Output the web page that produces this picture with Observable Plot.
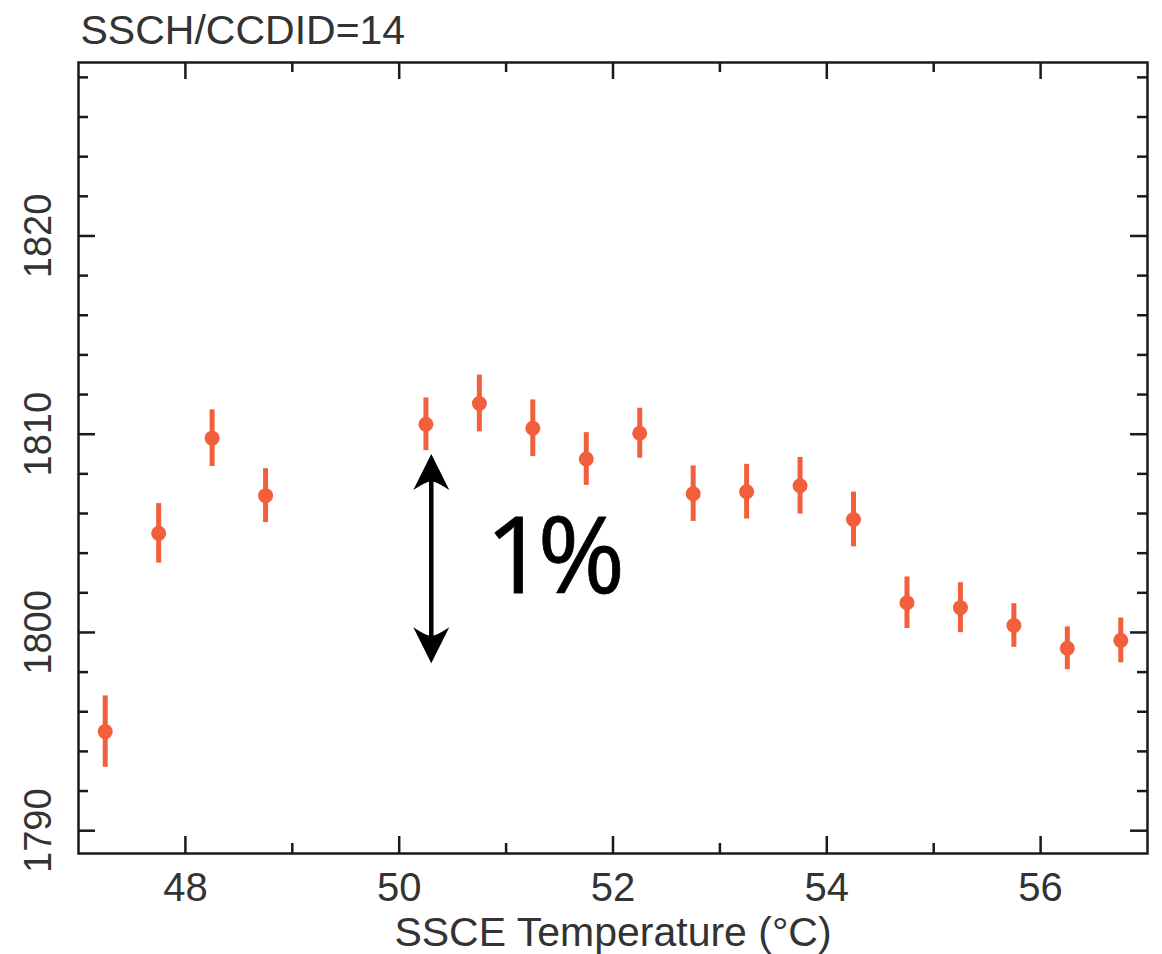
<!DOCTYPE html>
<html>
<head>
<meta charset="utf-8">
<script src="https://cdn.jsdelivr.net/npm/d3@7"></script>
<script src="https://cdn.jsdelivr.net/npm/@observablehq/plot@0.6"></script>
<style>
  html, body { margin: 0; padding: 0; background: #fff; }
  #chart svg { display: block; }
</style>
</head>
<body>
<div id="chart"></div>
<script>
// ---- data ----
const title = "SSCH/CCDID=14";
const xLabel = "SSCE Temperature (°C)";
const temps = [47.25, 47.75, 48.25, 48.75, 50.25, 50.75, 51.25, 51.75, 52.25, 52.75, 53.25, 53.75, 54.25, 54.75, 55.25, 55.75, 56.25, 56.75];
const values = [1795.0, 1805.0, 1809.8, 1806.9, 1810.5, 1811.55, 1810.3, 1808.75, 1810.05, 1807.0, 1807.1, 1807.4, 1805.7, 1801.5, 1801.25, 1800.35, 1799.2, 1799.6];
const errors = [1.8, 1.5, 1.43, 1.36, 1.33, 1.43, 1.43, 1.33, 1.26, 1.4, 1.38, 1.43, 1.38, 1.3, 1.26, 1.1, 1.08, 1.13];
const xMajorTicks = [48, 50, 52, 54, 56];
const xMinorTicks = [49, 51, 53, 55];
const yMajorTicks = [1790, 1800, 1810, 1820];
const yMinorTicks = [1792, 1794, 1796, 1798, 1802, 1804, 1806, 1808, 1812, 1814, 1816, 1818, 1822, 1824, 1826, 1828];
const xDomain = [47, 57];
const yDomain = [1788.85, 1828.75];
// annotation: double arrow and "1%" label
const arrowX = [50.3];
const arrowBottom = [1798.45];
const arrowTop = [1809.0];
const noteText = ["1%"];
const noteX = [51.42];
const noteY = [1803.7];

const data = temps.map((t, i) => ({t, v: values[i], e: errors[i]}));
const arrowData = arrowX.map((x, i) => ({x, top: arrowTop[i], bottom: arrowBottom[i]}));
const headData = arrowData.flatMap(a => [{x: a.x, y: a.top, r: 0}, {x: a.x, y: a.bottom, r: 180}]);
const noteData = noteText.map((s, i) => ({s, x: noteX[i], y: noteY[i]}));

// ---- layout ----
const W = 1162, H = 954;
const mL = 78, mR = 15, mT = 62, mB = 101;
const frameW = W - mL - mR, frameH = H - mT - mB;
const majorLen = 17, minorLen = 10;
const red = "#f25f3c";
const ink = "#1a1a1a";
const textInk = "#333";
const font = "'Liberation Sans', Arial, Helvetica, sans-serif";

const arrowHead = {
  draw(context) {
    context.moveTo(0, 0);
    context.lineTo(18, 36);
    context.quadraticCurveTo(6, 28, 0, 27);
    context.quadraticCurveTo(-6, 28, -18, 36);
    context.closePath();
  }
};

const tickStyle = {stroke: ink, strokeWidth: 2.5};

const chart = Plot.plot({
  width: W,
  height: H,
  marginLeft: mL,
  marginRight: mR,
  marginTop: mT,
  marginBottom: mB,
  style: {background: "#fff", fontFamily: font},
  x: {domain: xDomain, axis: null},
  y: {domain: yDomain, axis: null},
  marks: [
    // inward ticks on all four sides
    Plot.tickX(xMajorTicks, {x: d => d, insetTop: frameH - majorLen, ...tickStyle}),
    Plot.tickX(xMajorTicks, {x: d => d, insetBottom: frameH - majorLen, ...tickStyle}),
    Plot.tickX(xMinorTicks, {x: d => d, insetTop: frameH - minorLen, ...tickStyle}),
    Plot.tickX(xMinorTicks, {x: d => d, insetBottom: frameH - minorLen, ...tickStyle}),
    Plot.tickY(yMajorTicks, {y: d => d, insetRight: frameW - majorLen, ...tickStyle}),
    Plot.tickY(yMajorTicks, {y: d => d, insetLeft: frameW - majorLen, ...tickStyle}),
    Plot.tickY(yMinorTicks, {y: d => d, insetRight: frameW - minorLen, ...tickStyle}),
    Plot.tickY(yMinorTicks, {y: d => d, insetLeft: frameW - minorLen, ...tickStyle}),
    Plot.frame({stroke: ink, strokeWidth: 2.5}),
    // tick labels
    Plot.text(xMajorTicks, {x: d => d, text: d => String(d), frameAnchor: "bottom", lineAnchor: "top", dy: 19, fontSize: 40, fill: textInk}),
    Plot.text(yMajorTicks, {y: d => d, text: d => String(d), frameAnchor: "left", textAnchor: "middle", lineAnchor: "middle", rotate: -90, dx: -40, fontSize: 38, fill: textInk}),
    // title and axis label
    Plot.text([title], {text: d => d, frameAnchor: "top-left", textAnchor: "start", lineAnchor: "bottom", dx: 2, dy: -19, fontSize: 41, fill: textInk}),
    Plot.text([xLabel], {text: d => d, frameAnchor: "bottom", textAnchor: "middle", lineAnchor: "bottom", dy: 92, fontSize: 41, fill: textInk}),
    // error bars and points
    Plot.ruleX(data, {x: "t", y1: d => d.v - d.e, y2: d => d.v + d.e, stroke: red, strokeWidth: 5}),
    Plot.dot(data, {x: "t", y: "v", r: 7.5, fill: red, stroke: "none"}),
    // annotation
    Plot.ruleX(arrowData, {x: "x", y1: "top", y2: "bottom", stroke: "#000", strokeWidth: 4.5, insetTop: 14, insetBottom: 14}),
    Plot.dot(headData, {x: "x", y: "y", rotate: "r", symbol: arrowHead, fill: "#000", stroke: "none"}),
    Plot.text(noteData, {x: "x", y: "y", text: "s", fontSize: 106, fontWeight: 400, fill: "#000", stroke: "#000", strokeWidth: 0.8, textAnchor: "middle", lineAnchor: "middle", fontFamily: "'Open Sans', 'Noto Sans', sans-serif"})
  ]
});

// tighten the letter spacing of the "1%" note
d3.select(chart).selectAll("text").filter(function() { return this.textContent === noteText[0]; })
  .style("letter-spacing", "-0.08em");

document.getElementById("chart").appendChild(chart);
</script>
</body>
</html>
